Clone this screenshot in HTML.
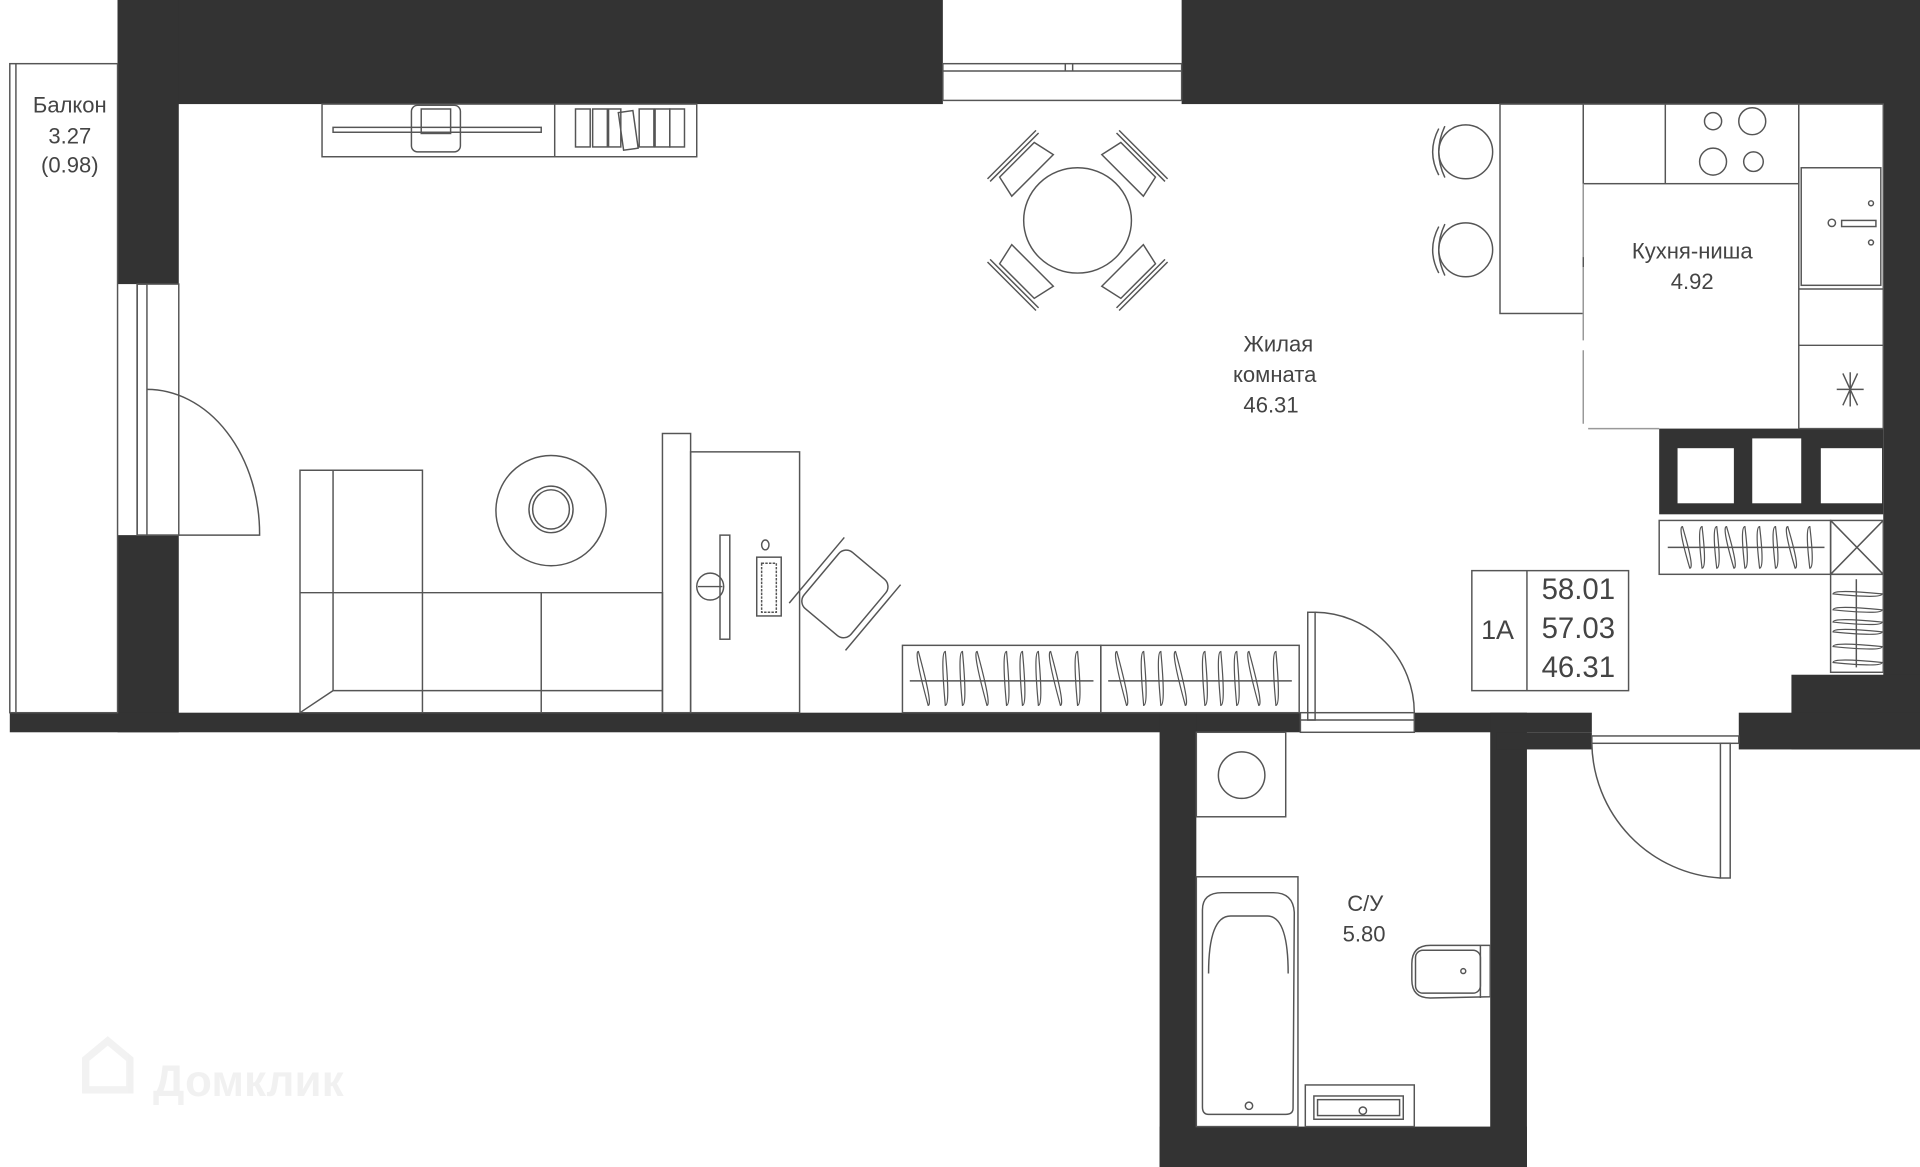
<!DOCTYPE html>
<html><head><meta charset="utf-8"><style>
html,body{margin:0;padding:0;background:#fff;width:1920px;height:1167px;overflow:hidden}
svg{display:block}
text{font-family:"Liberation Sans",sans-serif;fill:#444}
</style></head><body>
<svg width="1920" height="1167" viewBox="0 0 1568 953" preserveAspectRatio="none" xmlns="http://www.w3.org/2000/svg">
<g fill="#333">
<rect x="96" y="0" width="674" height="85"/>
<rect x="965" y="0" width="603" height="85"/>
<rect x="96" y="0" width="50" height="232"/>
<rect x="96" y="437" width="50" height="161"/>
<rect x="8" y="582" width="1054" height="16"/>
<rect x="1155" y="582" width="145" height="16"/>
<rect x="1538" y="0" width="30" height="612"/>
<rect x="1463" y="551" width="105" height="61"/>
<rect x="1420" y="582" width="148" height="30"/>
<rect x="947" y="582" width="30" height="371"/>
<rect x="1217" y="582" width="30" height="371"/>
<rect x="947" y="920" width="300" height="33"/>
<rect x="1222" y="598" width="78" height="14"/>
<rect x="1355" y="350" width="183" height="70"/>
</g>
<g fill="#fff">
<rect x="1370" y="366" width="46" height="45"/>
<rect x="1431" y="358" width="40" height="53"/>
<rect x="1487" y="366" width="50" height="45"/>
</g>
<g fill="none" stroke="#555" stroke-width="1.2">
<rect x="770" y="52" width="195" height="30"/>
<line x1="770" y1="58" x2="965" y2="58"/><line x1="870" y1="52" x2="870" y2="58"/><line x1="876" y1="52" x2="876" y2="58"/>
<rect x="8" y="52" width="88" height="530"/>
<line x1="13" y1="52" x2="13" y2="582"/>
<rect x="112" y="232" width="8" height="205"/>
<rect x="112" y="232" width="34" height="205"/>
<path d="M120 318 A92 118 0 0 1 212 437 L120 437"/>
<rect x="263" y="85" width="306" height="43"/>
<line x1="453" y1="85" x2="453" y2="128"/>
<rect x="336" y="86" width="40" height="38" rx="5"/>
<rect x="344" y="89" width="24" height="20"/>
<rect x="272" y="104" width="170" height="4"/>
<rect x="470" y="89" width="12" height="31"/><rect x="484" y="89" width="12" height="31"/><rect x="497" y="89" width="10" height="31"/>
<rect x="507" y="91" width="12" height="31" transform="rotate(-8 513 106)"/>
<rect x="522" y="89" width="12" height="31"/><rect x="535" y="89" width="12" height="31"/><rect x="547" y="89" width="12" height="31"/>
<ellipse cx="880" cy="180" rx="44" ry="43"/>
<g transform="rotate(-45 880 180)">
<path d="M856 128 L904 128 L900 110 L860 110Z"/><path d="M856 232 L904 232 L900 250 L860 250Z"/>
<path d="M828 156 L828 204 L810 200 L810 160Z"/><path d="M932 156 L932 204 L950 200 L950 160Z"/>
<path d="M852 104 L908 104 M852 107 L908 107"/><path d="M852 256 L908 256 M852 253 L908 253"/>
<path d="M804 152 L804 208 M807 152 L807 208"/><path d="M956 152 L956 208 M953 152 L953 208"/>
</g>
<rect x="1225" y="85" width="68" height="171"/>
<ellipse cx="1197" cy="124" rx="22" ry="22"/><path d="M1175 105 Q1165 124 1175 143"/><path d="M1180 103 Q1170 124 1180 145"/>
<ellipse cx="1197" cy="204" rx="22" ry="22"/><path d="M1175 185 Q1165 204 1175 223"/><path d="M1180 183 Q1170 204 1180 225"/>
<rect x="1293" y="85" width="176" height="65"/>
<line x1="1360" y1="85" x2="1360" y2="150"/>
<circle cx="1399" cy="99" r="7"/><circle cx="1431" cy="99" r="11"/><circle cx="1399" cy="132" r="11"/><circle cx="1432" cy="132" r="8"/>
<rect x="1469" y="85" width="69" height="265"/>
<rect x="1471" y="137" width="65" height="96"/>
<line x1="1469" y1="236" x2="1538" y2="236"/><line x1="1469" y1="282" x2="1538" y2="282"/>
<circle cx="1496" cy="182" r="3"/><rect x="1504" y="180" width="28" height="5"/><circle cx="1528" cy="166" r="2"/><circle cx="1528" cy="198" r="2"/>
<path d="M1505 305 L1517 331 M1517 305 L1505 331 M1500 318 L1522 318 M1511 304 L1511 332"/>
<path d="M1293 150 V350 H1355" stroke="#999" stroke-dasharray="60 8"/>
<rect x="1355" y="425" width="140" height="44"/>
<line x1="1362" y1="447" x2="1490" y2="447"/>
<rect x="1495" y="425" width="43" height="44"/>
<path d="M1495 425 L1538 469 M1538 425 L1495 469"/>
<rect x="1495" y="469" width="43" height="80"/>
<line x1="1516" y1="473" x2="1516" y2="545"/>
<g stroke-width="1">
<path d="M1374 430 q-4 0 6 34 q4 0 -6 -34z M1390 430 q-4 0 0 34 q4 0 0 -34z M1402 430 q-4 0 0 34 q4 0 0 -34z M1410 430 q-4 0 6 34 q4 0 -6 -34z M1425 430 q-4 0 0 34 q4 0 0 -34z M1437 430 q-4 0 0 34 q4 0 0 -34z M1450 430 q-4 0 0 34 q4 0 0 -34z M1460 430 q-4 0 6 34 q4 0 -6 -34z M1478 430 q-4 0 0 34 q4 0 0 -34z"/>
<path d="M1497 485 q0 -4 40 0 q0 4 -40 0z M1497 498 q0 -4 40 0 q0 4 -40 0z M1497 508 q0 -4 40 0 q0 4 -40 0z M1497 516 q0 -4 40 0 q0 4 -40 0z M1497 528 q0 -4 40 0 q0 4 -40 0z M1497 541 q0 -4 40 0 q0 4 -40 0z"/>
</g>
<rect x="737" y="527" width="162" height="55"/><rect x="899" y="527" width="162" height="55"/>
<line x1="743" y1="556" x2="893" y2="556"/><line x1="905" y1="556" x2="1055" y2="556"/>
<g stroke-width="1">
<path d="M750 532 q-4 0 8 44 q4 0 -8 -44z M772 532 q-4 0 0 44 q4 0 0 -44z M786 532 q-4 0 0 44 q4 0 0 -44z M798 532 q-4 0 8 44 q4 0 -8 -44z M822 532 q-4 0 0 44 q4 0 0 -44z M835 532 q-4 0 0 44 q4 0 0 -44z M848 532 q-4 0 0 44 q4 0 0 -44z M858 532 q-4 0 8 44 q4 0 -8 -44z M880 532 q-4 0 0 44 q4 0 0 -44z"/>
<path d="M912 532 q-4 0 8 44 q4 0 -8 -44z M934 532 q-4 0 0 44 q4 0 0 -44z M948 532 q-4 0 0 44 q4 0 0 -44z M960 532 q-4 0 8 44 q4 0 -8 -44z M984 532 q-4 0 0 44 q4 0 0 -44z M997 532 q-4 0 0 44 q4 0 0 -44z M1010 532 q-4 0 0 44 q4 0 0 -44z M1020 532 q-4 0 8 44 q4 0 -8 -44z M1042 532 q-4 0 0 44 q4 0 0 -44z"/>
</g>
<!-- sofa -->
<path d="M245 384 H345 V484 H541 V582 H245 Z"/>
<line x1="272" y1="384" x2="272" y2="564"/>
<line x1="245" y1="484" x2="345" y2="484"/>
<line x1="345" y1="484" x2="345" y2="582"/><line x1="442" y1="484" x2="442" y2="582"/>
<line x1="272" y1="564" x2="541" y2="564"/><line x1="245" y1="582" x2="272" y2="564"/>
<circle cx="450" cy="417" r="45"/><ellipse cx="450" cy="416" rx="18" ry="19"/><ellipse cx="450" cy="416" rx="15" ry="16"/>
<rect x="541" y="354" width="23" height="228"/>
<rect x="564" y="369" width="89" height="213"/>
<rect x="588" y="437" width="8" height="85"/>
<circle cx="580" cy="479" r="11"/><line x1="570" y1="479" x2="590" y2="479"/>
<rect x="618" y="455" width="20" height="48"/><rect x="622" y="460" width="12" height="40" stroke-dasharray="2 1"/>
<ellipse cx="625" cy="445" rx="3" ry="4"/>
<g transform="rotate(40 690 485)"><rect x="665" y="455" width="50" height="60" rx="8"/><line x1="660" y1="450" x2="660" y2="520"/><line x1="720" y1="450" x2="720" y2="520"/></g>
<rect x="1062" y="582" width="93" height="16"/>
<line x1="1062" y1="588" x2="1155" y2="588"/>
<rect x="1068" y="500" width="6" height="88"/>
<path d="M1074 500 A82 82 0 0 1 1155 582"/>
<rect x="1300" y="601" width="120" height="6"/>
<rect x="1405" y="607" width="8" height="110"/>
<path d="M1300 607 A112 112 0 0 0 1405 717"/>
<rect x="977" y="598" width="73" height="69"/>
<circle cx="1014" cy="633" r="19"/>
<rect x="977" y="716" width="83" height="204"/>
<path d="M982 743 Q982 729 998 729 L1040 729 Q1056 729 1057 745 L1056 905 Q1056 910 1050 910 L987 910 Q982 910 982 904Z"/>
<path d="M987 795 Q987 748 1005 748 L1035 748 Q1052 748 1052 795"/>
<circle cx="1020" cy="903" r="3"/>
<rect x="1066" y="886" width="89" height="34"/>
<rect x="1073" y="895" width="73" height="19"/><rect x="1076" y="898" width="67" height="13"/>
<circle cx="1113" cy="907" r="3"/>
<path d="M1153 787 Q1153 772 1168 772 L1210 772 L1217 772 L1217 814 L1168 815 Q1153 815 1153 800Z"/>
<rect x="1156" y="776" width="53" height="35" rx="6"/>
<line x1="1209" y1="772" x2="1209" y2="815"/>
<circle cx="1195" cy="793" r="2"/>
<rect x="1202" y="466" width="128" height="98"/>
<line x1="1247" y1="466" x2="1247" y2="564"/>
</g>
<g text-anchor="middle" font-size="18">
<text x="57" y="92">Балкон</text>
<text x="57" y="117">3.27</text>
<text x="57" y="141">(0.98)</text>
<text x="1044" y="287">Жилая</text>
<text x="1041" y="312">комната</text>
<text x="1038" y="337">46.31</text>
<text x="1382" y="211">Кухня-ниша</text>
<text x="1382" y="236">4.92</text>
<text x="1115" y="744">С/У</text>
<text x="1114" y="769">5.80</text>
<text x="1223" y="522" font-size="22">1A</text>
<text x="1289" y="489" font-size="24">58.01</text>
<text x="1289" y="521" font-size="24">57.03</text>
<text x="1289" y="553" font-size="24">46.31</text>
</g>
<g opacity="0.05">
<path d="M70 890 V865 L88 850 L106 865 V890 Z" fill="none" stroke="#000" stroke-width="6"/>
<text x="125" y="895" font-size="36" font-weight="bold" style="fill:#000">Домклик</text>
</g>
</svg>
</body></html>
